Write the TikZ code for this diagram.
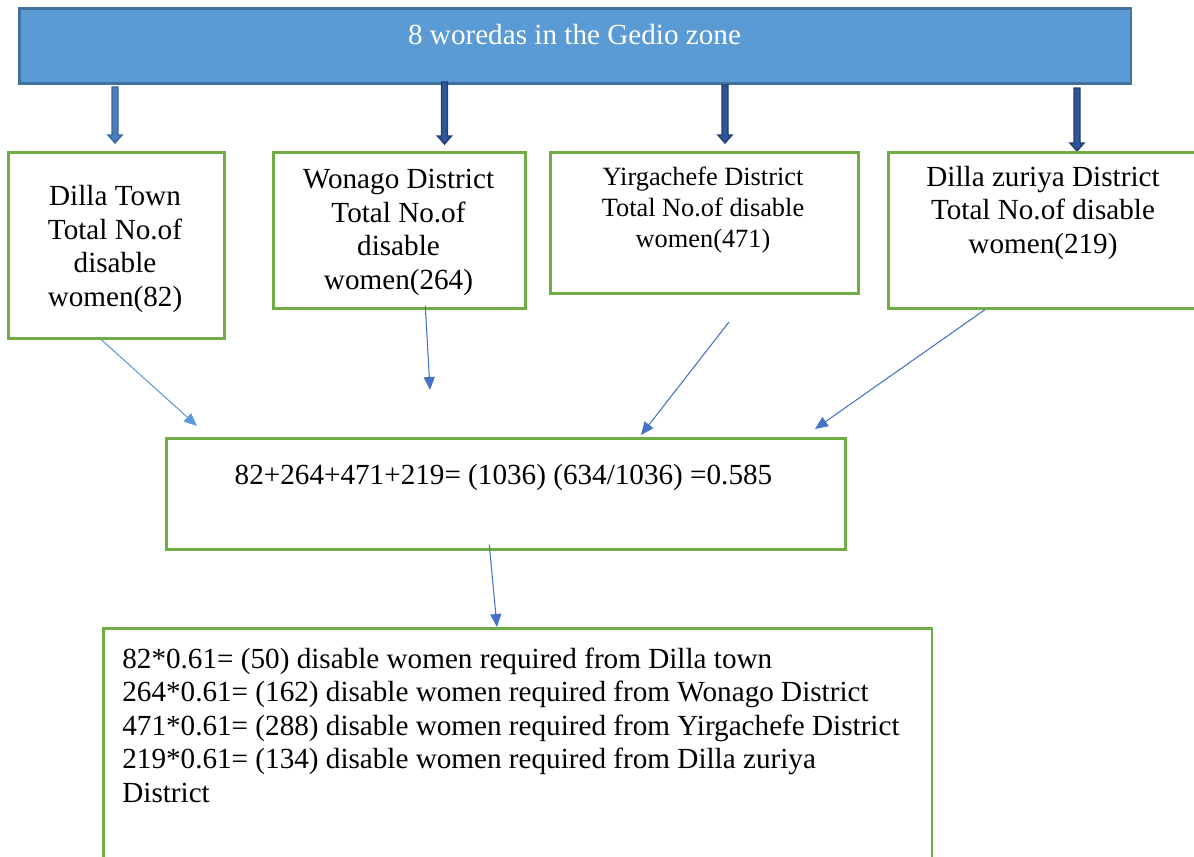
\documentclass[tikz,border=0pt]{standalone}
\usepackage{fontspec}
\setmainfont{Liberation Serif}
\usetikzlibrary{arrows.meta}

\definecolor{zonefill}{HTML}{5B9BD5}
\definecolor{zoneline}{HTML}{41719C}
\definecolor{boxgreen}{HTML}{70AD47}
\definecolor{linkblue}{HTML}{4472C4}
\definecolor{linklight}{HTML}{5B9BD5}
\definecolor{arrowlight}{HTML}{4A7EBB}
\definecolor{arrowlightline}{HTML}{3A6896}
\definecolor{arrowdark}{HTML}{2F5597}
\definecolor{arrowdarkline}{HTML}{203E7A}

\tikzset{
    greenbox/.style={draw=boxgreen, line width=1.5pt, fill=white, inner sep=0pt, anchor=north west},
    boxtext/.style={align=center, anchor=base, inner sep=0pt, font=\fontsize{16.6}{19}\selectfont},
    link/.style={draw=linkblue, line width=0.6pt, -{Triangle[length=2.6mm, width=2.2mm]}}
}

\begin{document}
\begin{tikzpicture} [x=0.02cm, y=-0.02cm]
        \useasboundingbox (0,0) rectangle (1194,856);
        \clip (0,0) rectangle (1194,856);
        % top banner
        \node [draw=zoneline, fill=zonefill, line width=1.5pt, inner sep=0pt, anchor=north west,
               minimum width=22.24cm, minimum height=1.5cm] (zone) at (18,7) {};
        \node [boxtext, text=white] (zonetxt) at (574.5,44) {8 woredas in the Gedio zone};
        % block arrows down to the districts
        \foreach \ax/\ya/\yb/\afill/\aline in {115/87/143/arrowlight/arrowlightline, 444.5/82/144/arrowdark/arrowdarkline,
                                                 725/85/143/arrowdark/arrowdarkline, 1077/88/151/arrowdark/arrowdarkline}
        {
            \filldraw [fill=\afill, draw=\aline, line width=0.8pt]
                (\ax-3,\ya) -- (\ax+3,\ya) -- (\ax+3,\yb-8) -- (\ax+7,\yb-8) -- (\ax,\yb)
                -- (\ax-7,\yb-8) -- (\ax-3,\yb-8) -- cycle;
        }
        % district boxes (text nodes sit on their last baseline)
        \node [greenbox, minimum width=4.32cm, minimum height=3.72cm] (dilla) at (7,151) {};
        \node [greenbox, minimum width=5.04cm, minimum height=3.12cm] (wonago) at (272,151) {};
        \node [greenbox, minimum width=6.16cm, minimum height=2.82cm] (yirga) at (549,151) {};
        \node [greenbox, minimum width=6.66cm, minimum height=3.12cm] (zuriya) at (887,151) {};
        \node [boxtext] (dillatxt) at (115,306) {Dilla Town\\Total No.of\\disable\\women(82)};
        \node [boxtext] (wonagotxt) at (398.5,289) {Wonago District\\Total No.of\\disable\\women(264)};
        \node [boxtext, font=\fontsize{15}{17.6}\selectfont] (yirgatxt) at (703,247) {Yirgachefe District\\Total No.of disable\\women(471)};
        \node [boxtext] (zuriyatxt) at (1043,253) {Dilla zuriya District\\Total No.of disable\\women(219)};
        % total and sample boxes
        \node [greenbox, minimum width=13.58cm, minimum height=2.22cm] (total) at (165,437) {};
        \node [boxtext] (totaltxt) at (503.5,484) {82+264+471+219= (1036) (634/1036) =0.585};
        \node [greenbox, minimum width=16.58cm, minimum height=5.46cm] (sample) at (102,627) {};
        \node [boxtext, align=left, anchor=base west] (sampletxt) at (122,802)
            {82*0.61= (50) disable women required from Dilla town\\
             264*0.61= (162) disable women required from Wonago District\\
             471*0.61= (288) disable women required from Yirgachefe District\\
             219*0.61= (134) disable women required from Dilla zuriya\\
             District};
        % thin connectors
        \coordinate (in1) at (197,426);
        \coordinate (in2) at (430,390);
        \coordinate (out3) at (729,322);
        \coordinate (in3) at (641,435);
        \coordinate (in4) at (815,429);
        \coordinate (in5) at (497,627);
        \draw [link, draw=linklight] ([xshift=-0.3cm]dilla.south) -- (in1);
        \draw [link] ([xshift=0.52cm, yshift=0.08cm]wonago.south) -- (in2);
        \draw [link] (out3) -- (in3);
        \draw [link] ([xshift=1.96cm]zuriya.south west) -- (in4);
        \draw [link] ([xshift=-0.33cm, yshift=0.12cm]total.south) -- (in5);
    \end{tikzpicture}
\end{document}
